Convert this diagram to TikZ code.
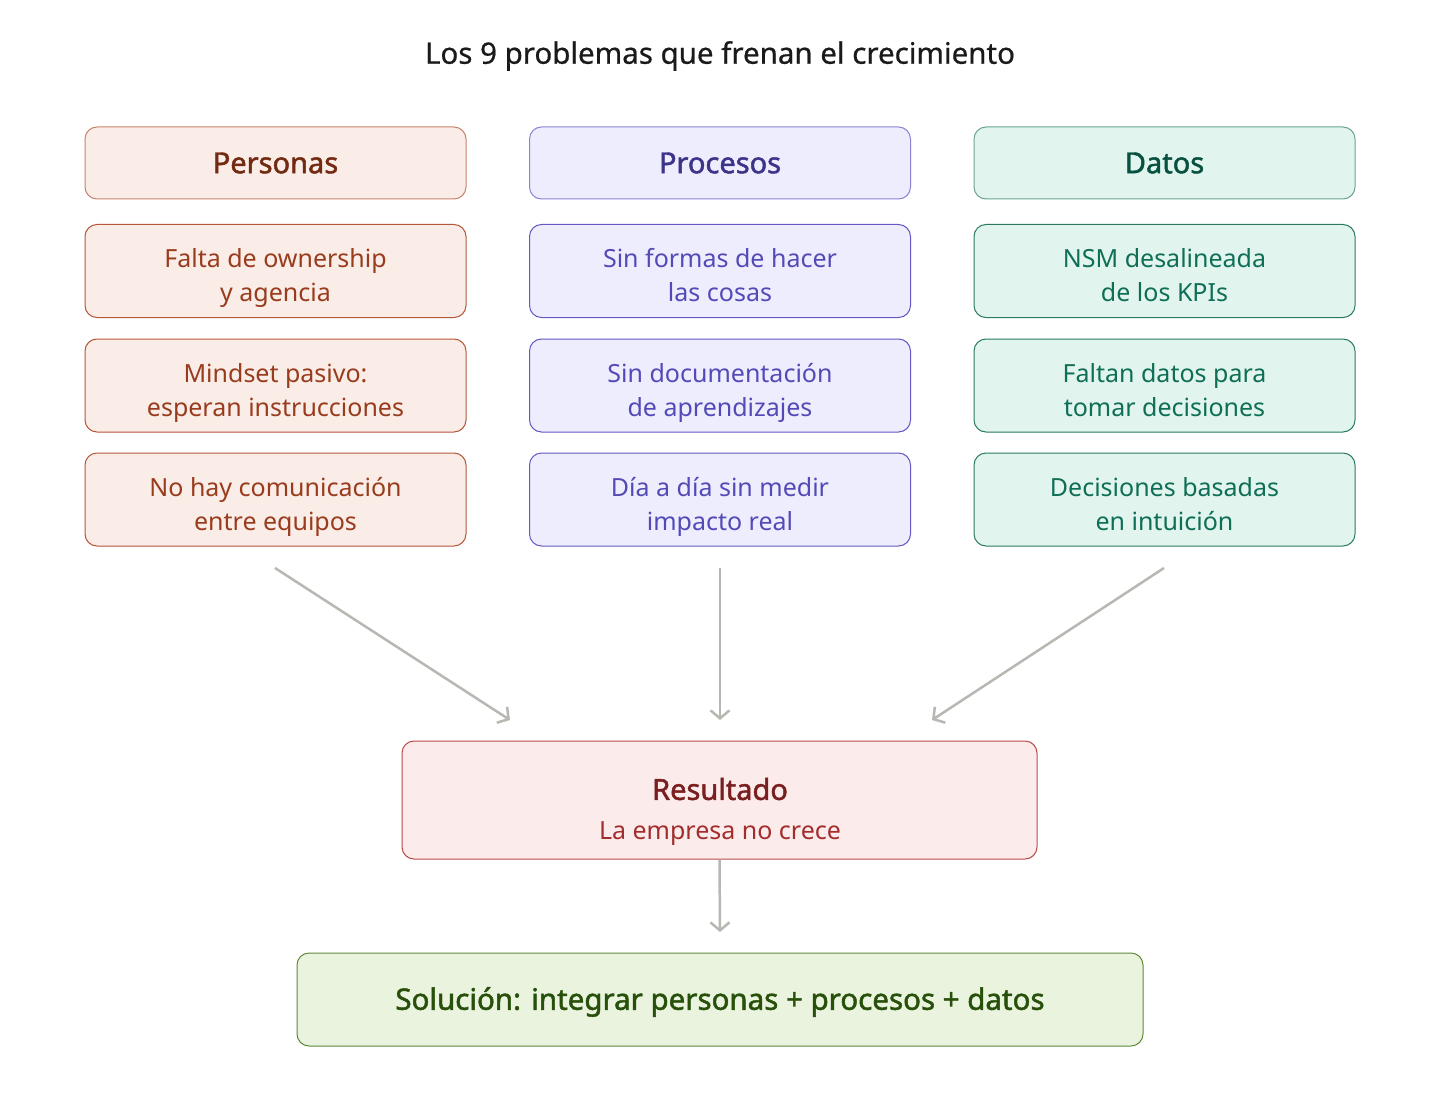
\documentclass[tikz,border=0pt]{standalone}
\usepackage{fontspec}
\setmainfont{Noto Sans}
\newfontfamily\headfont{Noto Sans}[FakeBold=1.6]
\newfontfamily\titlefont{Noto Sans}[FakeBold=0.6]
\usetikzlibrary{arrows.meta}
\definecolor{pFill}{HTML}{FAECE7}\definecolor{pLine}{HTML}{B5573A}\definecolor{pHead}{HTML}{712B13}\definecolor{pText}{HTML}{993C1D}\definecolor{pHLine}{HTML}{C98470}
\definecolor{rFill}{HTML}{EEEDFE}\definecolor{rLine}{HTML}{6259C4}\definecolor{rHead}{HTML}{3C3489}\definecolor{rText}{HTML}{534AB7}\definecolor{rHLine}{HTML}{8A83D6}
\definecolor{dFill}{HTML}{E1F5EE}\definecolor{dLine}{HTML}{2A7A63}\definecolor{dHead}{HTML}{085041}\definecolor{dText}{HTML}{0F6E56}\definecolor{dHLine}{HTML}{6BA391}
\definecolor{sFill}{HTML}{FCEBEB}\definecolor{sLine}{HTML}{B84A4A}\definecolor{sHead}{HTML}{791F1F}\definecolor{sText}{HTML}{A32D2D}
\definecolor{gFill}{HTML}{EAF3DE}\definecolor{gLine}{HTML}{5E8A3A}\definecolor{gText}{HTML}{27500A}
\definecolor{arr}{HTML}{B8B7B2}
\definecolor{ink}{HTML}{1A1A1A}
\newcommand{\twoline}[2]{\strut #1\strut\\\strut #2\strut}
\begin{document}
\begin{tikzpicture}[x=1pt,y=-1pt,
  box/.style={rounded corners=12pt, line width=1pt, minimum width=381pt, align=center, inner sep=0pt},
  head/.style={box, minimum height=72pt, font=\headfont\fontsize{29}{32}\selectfont},
  item/.style={box, minimum height=93pt},
  itemtext/.style={align=center, inner sep=0pt, font=\fontsize{25}{34}\selectfont},
  conn/.style={draw=arr, line width=2.5pt, -{Straight Barb[length=8pt,width=19pt,line width=2.5pt]}}
]
\useasboundingbox[fill=white] (0,0) rectangle (1440,1102);
\node[font=\titlefont\fontsize{29.5}{32}\selectfont, text=ink] (title) at (720,56) {Los 9 problemas que frenan el crecimiento};

% Personas
\node[head, fill=pFill, draw=pHLine, text=pHead] (p0) at (275.5,163) {Personas};
\node[item, fill=pFill, draw=pLine] (p1) at (275.5,271) {};
\node[item, fill=pFill, draw=pLine] (p2) at (275.5,385.5) {};
\node[item, fill=pFill, draw=pLine] (p3) at (275.5,499.5) {};
\node[itemtext, text=pText] (p1t) at ([yshift=-7pt]p1.center) {\twoline{Falta de ownership}{y agencia}};
\node[itemtext, text=pText] (p2t) at ([yshift=-7pt]p2.center) {\twoline{Mindset pasivo:}{esperan instrucciones}};
\node[itemtext, text=pText] (p3t) at ([yshift=-7pt]p3.center) {\twoline{No hay comunicación}{entre equipos}};

% Procesos
\node[head, fill=rFill, draw=rHLine, text=rHead] (r0) at (720,163) {Procesos};
\node[item, fill=rFill, draw=rLine] (r1) at (720,271) {};
\node[item, fill=rFill, draw=rLine] (r2) at (720,385.5) {};
\node[item, fill=rFill, draw=rLine] (r3) at (720,499.5) {};
\node[itemtext, text=rText] (r1t) at ([yshift=-7pt]r1.center) {\twoline{Sin formas de hacer}{las cosas}};
\node[itemtext, text=rText] (r2t) at ([yshift=-7pt]r2.center) {\twoline{Sin documentación}{de aprendizajes}};
\node[itemtext, text=rText] (r3t) at ([yshift=-7pt]r3.center) {\twoline{Día a día sin medir}{impacto real}};

% Datos
\node[head, fill=dFill, draw=dHLine, text=dHead] (d0) at (1164.5,163) {Datos};
\node[item, fill=dFill, draw=dLine] (d1) at (1164.5,271) {};
\node[item, fill=dFill, draw=dLine] (d2) at (1164.5,385.5) {};
\node[item, fill=dFill, draw=dLine] (d3) at (1164.5,499.5) {};
\node[itemtext, text=dText] (d1t) at ([yshift=-7pt]d1.center) {\twoline{NSM desalineada}{de los KPIs}};
\node[itemtext, text=dText] (d2t) at ([yshift=-7pt]d2.center) {\twoline{Faltan datos para}{tomar decisiones}};
\node[itemtext, text=dText] (d3t) at ([yshift=-7pt]d3.center) {\twoline{Decisiones basadas}{en intuición}};

% Resultado
\node[box, minimum width=635pt, minimum height=118pt, fill=sFill, draw=sLine] (res) at (719.5,800) {};
\node[font=\headfont\fontsize{29}{32}\selectfont, text=sHead] (resh) at (720,789) {Resultado};
\node[font=\fontsize{25}{28}\selectfont, text=sText] (ress) at (720,834) {La empresa no crece};

% Solucion
\node[box, minimum width=846pt, minimum height=93pt, fill=gFill, draw=gLine] (sol) at (720,999.5) {};
\node[font=\headfont\fontsize{29.5}{32}\selectfont, text=gText] (solt) at (720,1002) {Solución: integrar personas + procesos + datos};

% connectors
\coordinate (a1) at (275,568); \coordinate (b1) at (510,720);
\coordinate (a2) at (720,568); \coordinate (b2) at (720,720);
\coordinate (a3) at (1164,568); \coordinate (b3) at (932,720);
\coordinate (b4) at (720,932);
\draw[conn] (a1) -- (b1);
\draw[conn] (a2) -- (b2);
\draw[conn] (a3) -- (b3);
\draw[conn] (res.south) -- (b4);
\end{tikzpicture}
\end{document}
